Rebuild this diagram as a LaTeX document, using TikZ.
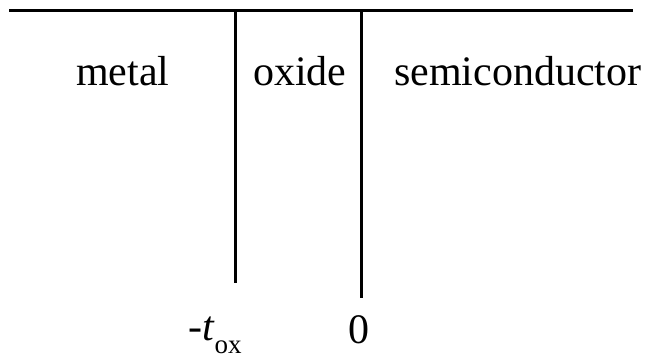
\documentclass[tikz,border=0pt]{standalone}
\usepackage{fontspec}
\setmainfont{Liberation Serif}
\begin{document}
\begin{tikzpicture}[x=1pt,y=1pt,
  wall/.style={line width=3pt},
  lbl/.style={anchor=base west,inner sep=0pt,font=\fontsize{42}{48}\selectfont}]
\useasboundingbox (0,0) rectangle (654,357);
\coordinate (hl) at (9,346.2);
\coordinate (hr) at (633,346.2);
\coordinate (a1) at (235,346.2);
\coordinate (a2) at (235,74.3);
\coordinate (b1) at (361,346.2);
\coordinate (b2) at (361,59);
\draw[wall] (hl) -- (hr);
\draw[wall] (a1) -- (a2);
\draw[wall] (b1) -- (b2);
\node[lbl] (metal) at (76,271) {metal};
\node[lbl] (oxide) at (253,271) {oxide};
\node[lbl] (semi) at (394,271) {semiconductor};
\node[lbl] (tox) at (188,17) {-\textit{t}\raisebox{-13pt}{\fontsize{27}{30}\selectfont ox}};
\node[lbl] (zero) at (348,14) {0};
\end{tikzpicture}
\end{document}
